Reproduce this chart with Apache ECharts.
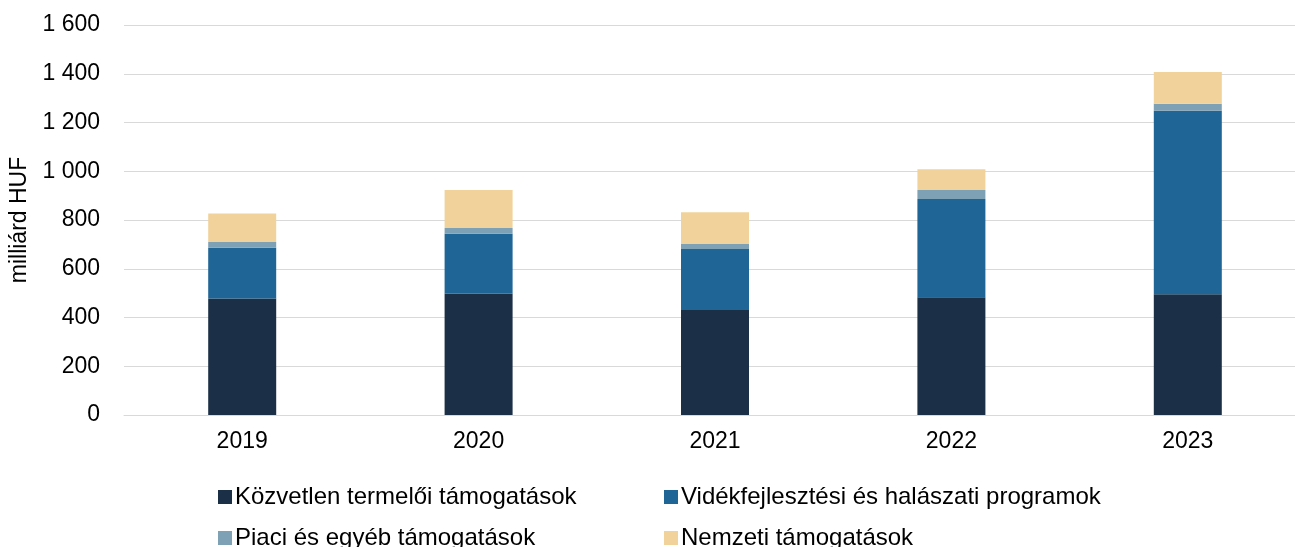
<!DOCTYPE html>
<html>
<head>
<meta charset="utf-8">
<script src="https://cdn.jsdelivr.net/npm/echarts@6/dist/echarts.min.js"></script>
<style>html,body{margin:0;padding:0;background:#fff;}#c{width:1295px;height:547px;}</style>
</head>
<body>
<div id="c"></div>
<script>
const categories = ['2019', '2020', '2021', '2022', '2023'];
const seriesNames = ['Közvetlen termelői támogatások', 'Vidékfejlesztési és halászati programok', 'Piaci és egyéb támogatások', 'Nemzeti támogatások'];
const kozvetlen = [478, 498, 431, 483, 495];
const videk = [208, 246, 250, 403, 753];
const piaci = [24, 23, 21, 37, 29];
const nemzeti = [117, 156, 130, 85, 130];
const colors = ['#1B3046', '#1F6595', '#7FA1B6', '#F2D29B'];
const yAxisName = 'milliárd HUF';

const font = 'Liberation Sans, Arial, sans-serif';
const chart = echarts.init(document.getElementById('c'));
const values = [kozvetlen, videk, piaci, nemzeti];
const legendPos = [[213, 480], [659, 480], [213, 521], [659, 521]];
chart.setOption({
  animation: false,
  color: colors,
  grid: { left: 124, width: 1182, top: 25, bottom: 132, containLabel: false, outerBoundsMode: 'none' },
  legend: seriesNames.map((n, i) => ({
    data: [n], left: legendPos[i][0], top: legendPos[i][1], itemWidth: 14, itemHeight: 14, icon: 'rect',
    textStyle: { fontFamily: font, fontSize: 24, color: '#000', padding: [0, 0, 0, -2] }
  })),
  xAxis: {
    type: 'category', data: categories,
    axisLine: { lineStyle: { color: '#D9D9D9' } },
    axisTick: { show: false },
    axisLabel: { fontFamily: font, fontSize: 23, color: '#000', margin: 15 }
  },
  yAxis: {
    type: 'value', min: 0, max: 1600, interval: 200,
    name: yAxisName, nameLocation: 'middle', nameGap: 86, nameRotate: 90,
    nameTextStyle: { fontFamily: font, fontSize: 23, color: '#000' },
    axisLine: { show: false }, axisTick: { show: false },
    splitLine: { lineStyle: { color: '#D9D9D9', width: 1 } },
    axisLabel: { fontFamily: font, fontSize: 23, color: '#000', margin: 24,
      formatter: v => String(v).replace(/\B(?=(\d{3})+(?!\d))/g, ' ') }
  },
  series: seriesNames.map((n, i) => ({
    name: n, type: 'bar', stack: 'total', barWidth: 68, data: values[i],
    itemStyle: { color: colors[i] }
  }))
});
</script>
</body>
</html>
